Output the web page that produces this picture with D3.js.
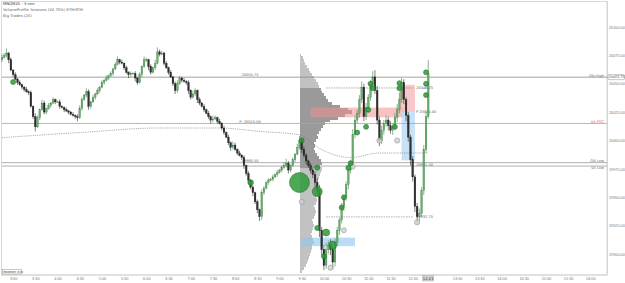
<!DOCTYPE html>
<html><head><meta charset="utf-8">
<script src="https://cdn.jsdelivr.net/npm/d3@7"></script>
<style>body{margin:0;background:#fff;overflow:hidden}svg{display:block;font-family:"DejaVu Sans",Arial,sans-serif}</style>
</head><body><svg id="c" width="625" height="283"></svg>
<script>
// ---------- DATA ----------
const firstOpen = 20071;
const closes = [20073,20075,20077,20071,20062,20058,20054,20051,20049,20047,
20045,20043,20042,20030,20021,20012,20020,20027,20033,20025,
20028,20031,20033,20036,20034,20034,20030,20029,20027,20026,
20025,20023,20022,20021,20020,20028,20036,20040,20043,20030,
20034,20038,20041,20044,20047,20051,20053,20055,20057,20059,
20063,20067,20071,20069,20068,20064,20060,20058,20059,20059,
20055,20051,20058,20065,20071,20071,20065,20060,20064,20068,
20078,20076,20077,20068,20064,20060,20056,20050,20044,20050,
20055,20053,20052,20051,20044,20038,20041,20044,20036,20033,
20030,20027,20024,20021,20018,20019,20020,20017,20015,20011,
20007,20003,19998,19994,19996,19992,19989,19987,19985,19978,
19971,19965,19959,19954,19946,19939,19933,19954,19958,19963,
19965,19966,19968,19970,19972,19974,19976,19978,19980,19974,
19978,19983,19988,19994,20000,19992,19987,19982,19978,19974,
19970,19963,19956,19921,19904,19890,19904,19908,19904,19893,
19910,19921,19930,19942,19950,19961,19974,19980,20005,20018,
20024,20036,20047,20021,20029,20038,20049,20056,20044,20018,
20000,20009,20015,20018,20013,20009,20012,20020,20027,20036,
20051,20036,20022,20003,19983,19968,19942,19933,19936,19956,
19992,20021,20059];
const wickHi = [3,2,4,1,2,1,2,1,2,1, 1,2,1,2,1,3,2,1,3,2, 1,2,1,2,1,1,2,1,1,2, 1,1,2,1,2,3,2,1,3,2,
1,2,1,2,1,2,1,2,1,2, 1,2,3,1,2,1,2,1,2,1, 2,1,2,1,3,2,1,2,1,3, 4,2,2,1,2,1,2,1,2,3,
2,1,2,1,2,1,3,2,1,2, 1,2,1,2,1,3,2,1,2,1, 2,1,2,1,3,2,1,2,1,2, 1,2,1,2,1,2,1,3,2,1,
2,1,2,1,2,1,2,3,4,2, 1,2,1,3,4,2,3,2,1,2, 2,3,4,5,3,4,6,4,5,3, 4,3,2,3,2,3,4,3,5,4,
3,4,5,3,4,3,4,5,6,4, 3,4,3,4,3,4,3,4,5,6, 4,3,2,3,2,3,2,3,4,3, 4,5,12];
const wickLo = [2,1,2,3,1,2,1,2,1,2, 2,1,2,1,2,4,1,2,1,2, 2,1,2,1,2,1,2,1,2,1, 2,1,1,2,3,1,2,1,2,3,
2,1,2,1,2,1,2,1,2,1, 2,1,1,2,1,2,1,3,2,1, 3,2,1,2,1,2,3,2,1,2, 1,2,1,2,1,2,1,2,3,2,
1,2,1,2,3,2,1,2,3,2, 1,2,1,2,3,2,1,2,1,2, 2,1,2,3,2,1,2,1,2,3, 2,3,2,3,2,3,4,3,2,1,
2,1,2,1,2,1,2,1,2,3, 2,1,2,1,2,3,2,3,2,3, 3,4,5,6,5,4,3,4,5,6, 4,3,4,3,4,3,4,3,4,3,
3,4,3,4,3,4,3,4,3,4, 5,3,4,3,4,3,4,3,4,3, 3,4,5,4,5,4,5,6,4,3, 4,3,2];

const priceTicks = [20100,20075,20050,20025,20000,19975,19950,19925,19900];
const timeTickIdx = [5,15,25,35,45,55,65,75,85,95,105,115,125,135,145,155,165,175,185,205,215,225,235,245,255,265];
const timeTickLabels = ["3:00","3:30","4:00","4:30","5:00","5:30","6:00","6:30","7:00","7:30","8:00","8:30","9:00","9:30","10:00","10:30","11:00","11:30","12:00","13:00","13:30","14:00","14:30","15:00","15:30","16:00"];
const currentTimeLabel = "12:21";

const profileStartIdx = 134;
const profileLow = 19885, profileStep = 2.5;
const profileVol = [2,4,6,7,8,9,10,11,12,12, 14,13,12,11,12,13,14,13,12,14, 15,16,15,14,16,17,16,18,17,19,
18,17,18,19,20,21,22,20,22,21, 19,17,15,14,15,14,16,18,17,19, 21,23,25,30,38,45,52,48,40,32,
28,26,24,22,21,19,18,16,14,12, 10,9,7,5,4,3,1];
const valueArea = [19977.5, 20046];

const vwapIdx   = [0, 35, 71, 98, 116, 134, 143, 157, 170, 192];
const vwapPrice = [20002.5, 20007, 20011, 20011, 20008, 20005, 19993, 19985, 19989, 19989];

const greenIdx   = [5,112,134,135,142,142,142,146,149,145,153,154,156,157,160,164,165,166,167,177,179,179,191,191,191];
const greenPrice = [20051.5,19963,19963,20000,19976,19955,19923,19919,19908,19898,19941,19950,19976,19980,20007,20012,20027,20050,20046,20012,20050.5,20046,20040,20050,20060];
const greenVol   = [20,25,320,20,20,80,20,40,50,20,20,20,20,20,20,20,20,20,20,20,20,20,20,20,20];
const grayIdx   = [170,178,158,154,148,187,135];
const grayPrice = [20000,20000,19977,19921,19888,19928,19946];
const grayVol   = [22,22,20,20,22,22,20];

const levelPrices = [20055.75, 20015, 19980.5, 19977.5];
const levelNames  = ["ON High", "VA POC", "ON Low", "VA Low"];
const levelMidLabels = ["20055.75", "P: 20015.00", "19980.50", ""];

const sessHighLow = [20046.25, 19932.75];
const zoneRedBand  = {i0:139, i1:181, p0:20020.5, p1:20029};
const zoneBlueBand = {i0:135, i1:159, p0:19907, p1:19914.5};
const zonePink     = {i0:179, i1:186, p0:20025, p1:20049};
const zoneBlue     = {i0:180, i1:186, p0:19982.5, p1:20025};

const titleLines = ["MNQM25 - 3 min", "VolumeProfile Sessions (VA 70%) ETH/RTH", "Big Trades (20)"];

// ---------- CHART ----------
const svg = d3.select("#c");
const W = 625, H = 283, plotR = 607, plotB = 275;
const x = d3.scaleLinear().domain([0, 265]).range([2, 2 + 265 * 2.22]);
const y = d3.scaleLinear().domain([19900, 20100]).range([254.1, 26.9]);

svg.append("rect").attr("x",0).attr("y",0).attr("width",W).attr("height",H).attr("fill","#fff");
svg.append("rect").attr("x",1.5).attr("y",1.5).attr("width",plotR-1.5).attr("height",plotB-1.5)
  .attr("fill","none").attr("stroke","#d0d0d0").attr("stroke-width",0.8);

// volume profile
const pv = d3.scaleLinear().domain([0, d3.max(profileVol)]).range([0, 52]);
const bh = Math.abs(y(0) - y(profileStep));
svg.append("g").attr("shape-rendering","crispEdges").selectAll("rect").data(profileVol).join("rect")
  .attr("x", x(profileStartIdx) + 0.5)
  .attr("y", (d,k) => y(profileLow + k*profileStep) - bh/2 - 0.3)
  .attr("width", d => pv(d)).attr("height", bh + 0.6)
  .attr("fill", (d,k) => { const p = profileLow + k*profileStep; return (p >= valueArea[0] && p <= valueArea[1]) ? "#9a9a9a" : "#c2c2c2"; });

// zones
function zone(z, fill, op){
  svg.append("rect").attr("x", x(z.i0)).attr("y", y(z.p1)).attr("width", x(z.i1)-x(z.i0))
    .attr("height", y(z.p0)-y(z.p1)).attr("fill", fill).attr("opacity", op);
}
zone(zoneRedBand, "#ef8f8f", 0.55);
zone(zoneBlueBand, "#8cc6f0", 0.6);
zone(zonePink, "#f7b3b8", 0.75);
zone(zoneBlue, "#b7dbf6", 0.8);

// levels
const levelColors = ["#8a8a8a", "#e58a94", "#9a9a9a", "#9a9a9a"];
levelPrices.forEach((p, k) => {
  svg.append("line").attr("x1", 2).attr("x2", plotR).attr("y1", y(p)).attr("y2", y(p))
    .attr("stroke", levelColors[k]).attr("stroke-width", 0.8);
  svg.append("text").attr("x", plotR - 3).attr("y", y(p) + (k===3 ? 2.6 : -0.6)).attr("text-anchor","end")
    .attr("font-size", 3.6).attr("fill", k===1 ? "#e06070" : "#777").text(levelNames[k]);
  if (levelMidLabels[k]) svg.append("text").attr("x", 250).attr("y", y(p) - 0.7).attr("text-anchor","middle")
    .attr("font-size", 3.6).attr("fill", "#666").text(levelMidLabels[k]);
});

// session high/low dashed
sessHighLow.forEach(p => {
  svg.append("line").attr("x1", x(146)).attr("x2", x(185)).attr("y1", y(p)).attr("y2", y(p))
    .attr("stroke", "#777").attr("stroke-width", 0.6).attr("stroke-dasharray", "1.5,1");
  svg.append("text").attr("x", x(186)+1).attr("y", y(p)+1.2).attr("font-size", 3.6).attr("fill", "#666").text(p.toFixed(2));
});
svg.append("text").attr("x", x(186)+1).attr("y", y(zonePink.p0)+1.2).attr("font-size", 3.6).attr("fill", "#666").text("P " + zonePink.p0.toFixed(2));
svg.append("text").attr("x", x(186)+1).attr("y", y(19978.5)+1.2).attr("font-size", 3.6).attr("fill", "#666").text("19981.50");

// vwap
const vw = vwapIdx.map((d,k) => [x(d), y(vwapPrice[k])]);
svg.append("path").attr("d", d3.line().curve(d3.curveMonotoneX)(vw)).attr("fill","none")
  .attr("stroke","#777").attr("stroke-width",0.6).attr("stroke-dasharray","1.2,1");

// candles
const candles = closes.map((c,i) => {
  const o = i === 0 ? firstOpen : closes[i-1];
  return {i, o, c, h: Math.max(o,c) + wickHi[i], l: Math.min(o,c) - wickLo[i]};
});
const cg = svg.append("g");
cg.selectAll("line").data(candles).join("line")
  .attr("x1", d => x(d.i)).attr("x2", d => x(d.i)).attr("y1", d => y(d.h)).attr("y2", d => y(d.l))
  .attr("stroke", d => d.c >= d.o ? "#3f7f45" : "#2a2a2a").attr("stroke-width", 0.6);
cg.selectAll("rect").data(candles).join("rect")
  .attr("x", d => x(d.i) - 0.85).attr("width", 1.7)
  .attr("y", d => y(Math.max(d.o,d.c))).attr("height", d => Math.max(0.6, Math.abs(y(d.o)-y(d.c))))
  .attr("fill", d => d.c >= d.o ? "#6aae6e" : "#303030")
  .attr("stroke", d => d.c >= d.o ? "#3d7d43" : "#111").attr("stroke-width", 0.3);

// big trades
const rs = d3.scaleSqrt().domain([0, 320]).range([0, 10]);
const gray = grayIdx.map((d,k) => ({i:d, p:grayPrice[k], v:grayVol[k]}));
svg.append("g").selectAll("circle").data(gray).join("circle")
  .attr("cx", d => x(d.i)).attr("cy", d => y(d.p)).attr("r", d => rs(d.v))
  .attr("fill", "#cfcfcf").attr("fill-opacity", 0.8).attr("stroke", "#888").attr("stroke-width", 0.5);
const green = greenIdx.map((d,k) => ({i:d, p:greenPrice[k], v:greenVol[k]}));
svg.append("g").selectAll("circle").data(green).join("circle")
  .attr("cx", d => x(d.i)).attr("cy", d => y(d.p)).attr("r", d => rs(d.v))
  .attr("fill", "#2f9a3a").attr("fill-opacity", 0.85).attr("stroke", "#1d6a25").attr("stroke-width", 0.5);

// price axis
svg.append("line").attr("x1", plotR+0.5).attr("x2", plotR+0.5).attr("y1", 1.5).attr("y2", plotB).attr("stroke", "#cfcfcf").attr("stroke-width", 0.8);
const ya = d3.axisRight(y).tickValues(priceTicks).tickFormat(d => d.toFixed(2)).tickSize(0).tickPadding(2);
const yg = svg.append("g").attr("transform", `translate(${plotR},0)`).call(ya);
yg.select(".domain").remove();
yg.selectAll("text").attr("font-size", 3.8).attr("fill", "#777");
// current level box
const by = y(levelPrices[0]);
svg.append("rect").attr("x", plotR+1).attr("y", by-2.5).attr("width", 16.5).attr("height", 5).attr("fill","#fff").attr("stroke","#888").attr("stroke-width",0.5).attr("rx",1);
svg.append("text").attr("x", plotR+1.8).attr("y", by+1.2).attr("font-size",3.3).attr("fill","#444").text(levelPrices[0].toFixed(2));

// time axis
svg.append("line").attr("x1", 1.5).attr("x2", plotR).attr("y1", plotB).attr("y2", plotB).attr("stroke","#cfcfcf").attr("stroke-width",0.8);
const xa = d3.axisBottom(x).tickValues(timeTickIdx).tickFormat((d,k) => timeTickLabels[k]).tickSize(0).tickPadding(2);
const xg = svg.append("g").attr("transform", `translate(0,${plotB})`).call(xa);
xg.select(".domain").remove();
xg.selectAll("text").attr("font-size", 3.8).attr("fill", "#777");
const cx = x(closes.length - 1);
svg.append("rect").attr("x", cx-5.5).attr("y", plotB+0.8).attr("width", 11).attr("height", 5.2).attr("fill","#d6d6d6").attr("stroke","#999").attr("stroke-width",0.4);
svg.append("text").attr("x", cx).attr("y", plotB+4.6).attr("text-anchor","middle").attr("font-size",3.8).attr("fill","#333").text(currentTimeLabel);

// title texts
titleLines.forEach((t,k) => {
  svg.append("text").attr("x", 3).attr("y", 5 + k*6).attr("font-size", 3.8).attr("fill", k===0 ? "#333" : "#666").text(t);
});
// bottom-left tag
svg.append("rect").attr("x", 2.5).attr("y", 269.5).attr("width", 19).attr("height", 4.5).attr("fill","#fff").attr("stroke","#777").attr("stroke-width",0.4);
svg.append("text").attr("x", 3.2).attr("y", 272.9).attr("font-size", 2.8).attr("fill","#333").text("MNQM25 (3m)");
</script></body></html>
